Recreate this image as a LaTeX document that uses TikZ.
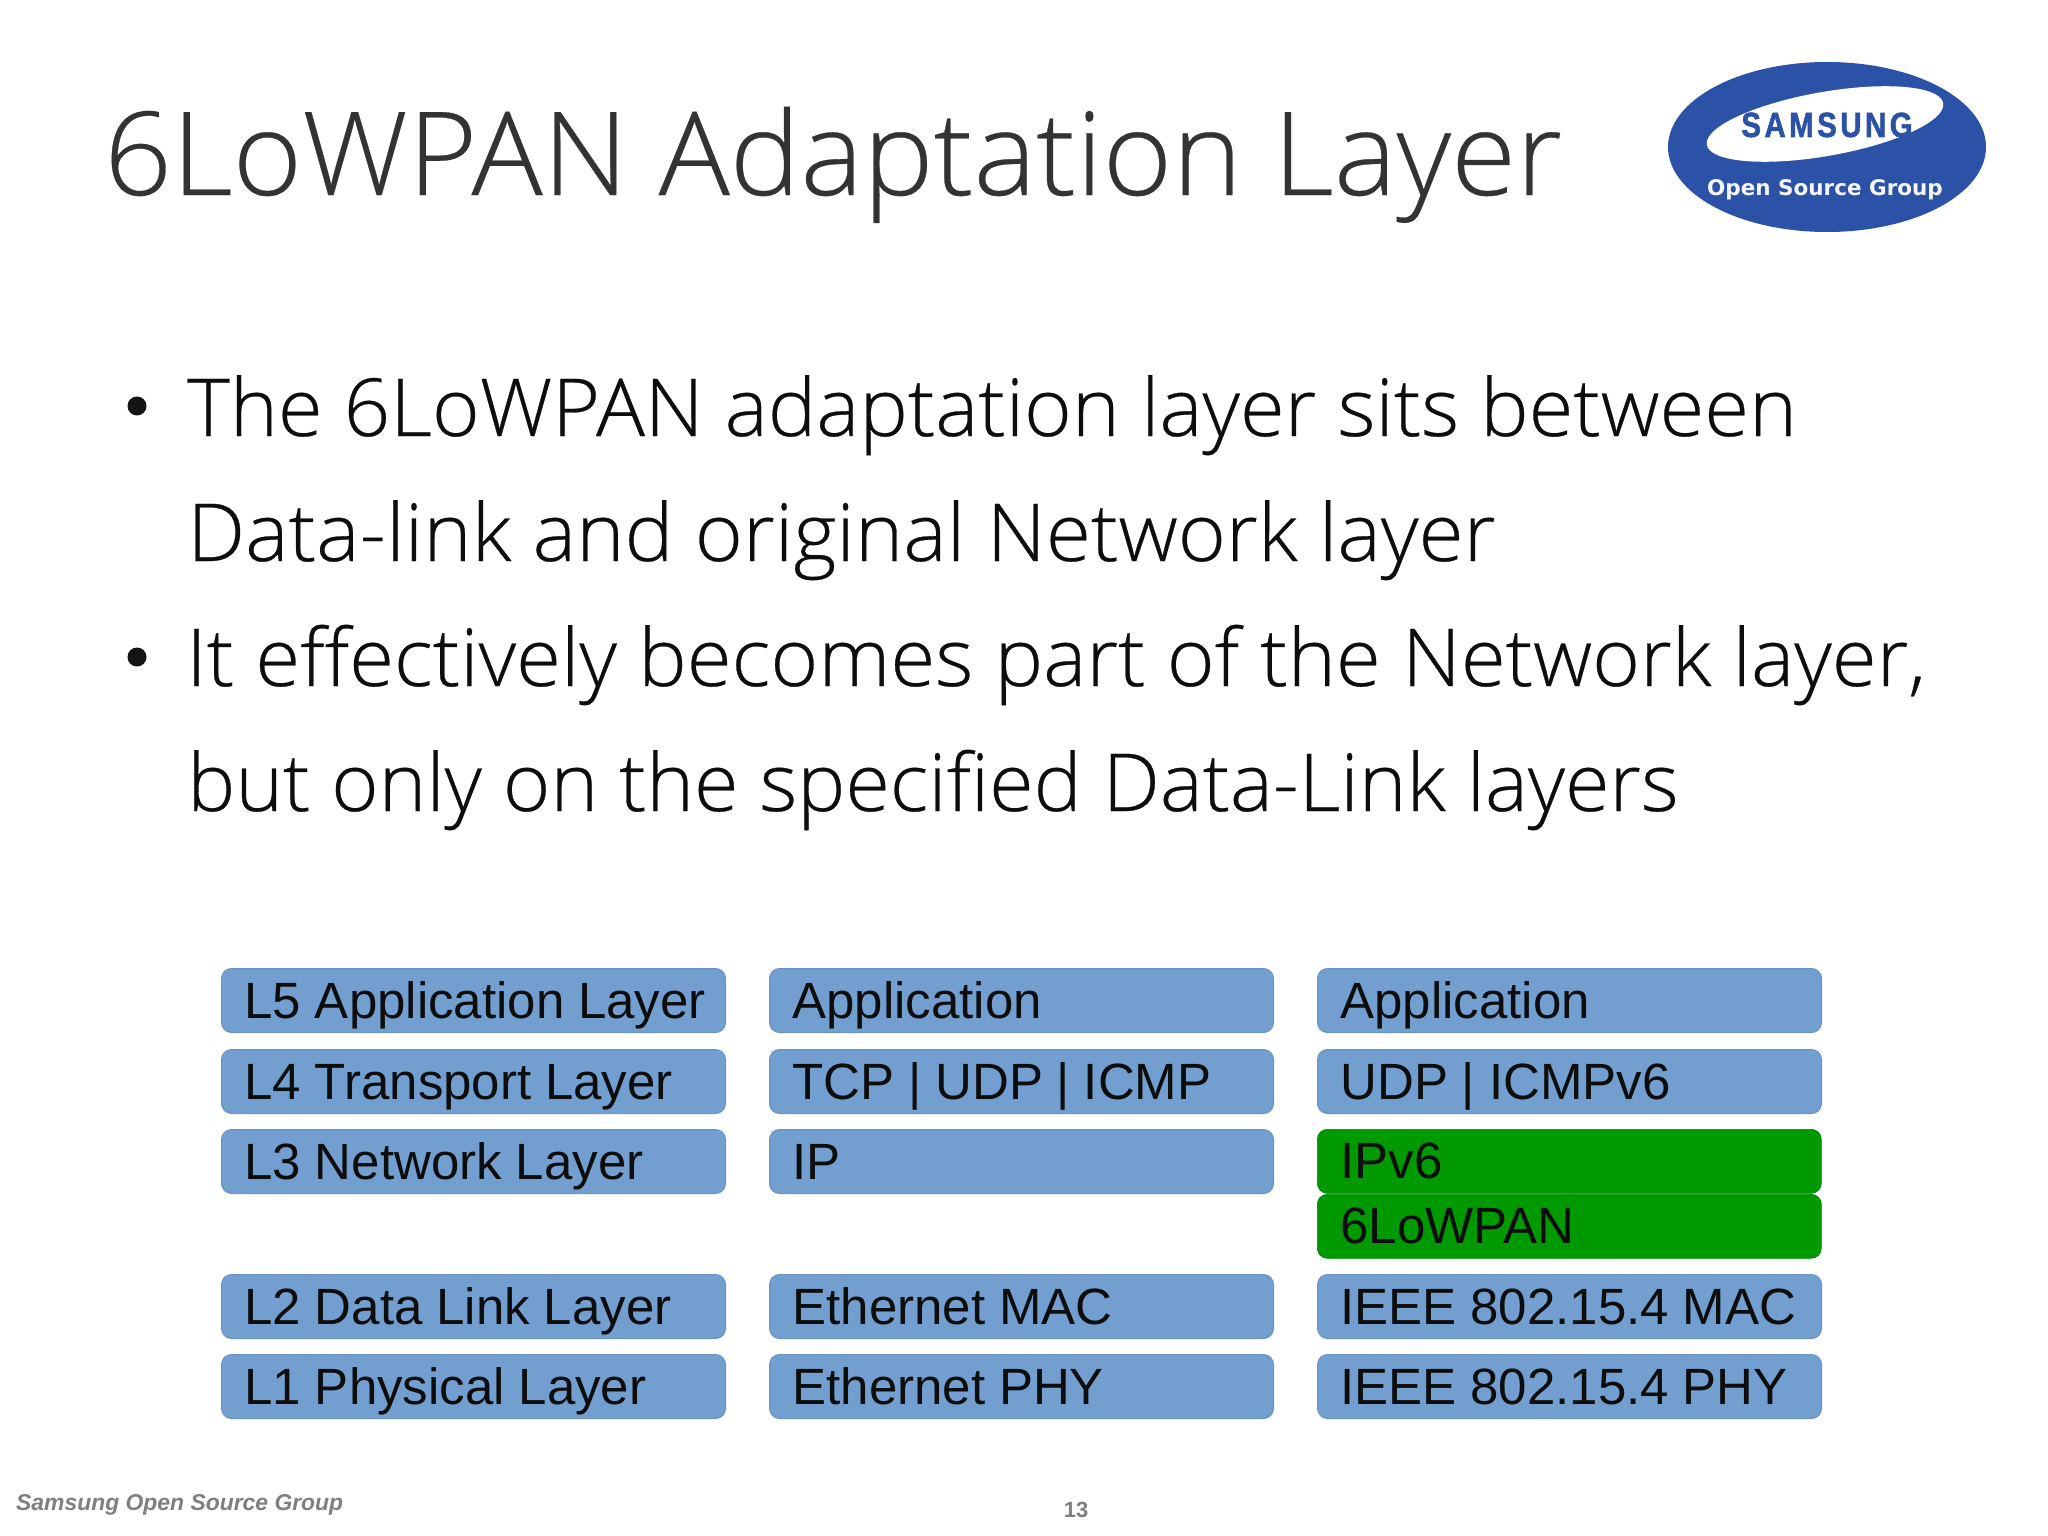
\documentclass[tikz,border=0pt]{standalone}
\usepackage{fontspec}
\usetikzlibrary{shapes.geometric}
\setmainfont{Liberation Sans}
\newfontfamily\headfont{Open Sans}[UprightFont={* Light},FakeStretch=1.022,FakeBold=0.25]
\newfontfamily\bodyfont{Open Sans}[UprightFont={* Light},FakeStretch=1.018,FakeBold=0.35]
\newfontfamily\boxfont{Liberation Sans}
\newfontfamily\logofont{DejaVu Sans}
\newfontfamily\samfont{Liberation Sans Bold}[LetterSpace=10,FakeStretch=0.84,FakeBold=1.5]
\definecolor{boxblue}{HTML}{729FCF}
\definecolor{boxedge}{HTML}{6A93C4}
\definecolor{boxgreen}{HTML}{009900}
\definecolor{logoblue}{HTML}{2C52A8}
\definecolor{footgrey}{HTML}{7F7F7F}
\newcommand\lay[1]{\makebox[502pt][l]{\hspace*{22pt}\spaceskip=13.8pt\relax #1}}
\tikzset{
  x=1pt,y=-1pt,
  layer/.style={anchor=north west,rectangle,rounded corners=10pt,minimum width=504pt,minimum height=64pt,
    inner xsep=1pt,inner ysep=0pt,text height=35pt,text depth=0pt,
    font=\boxfont\fontsize{51}{51}\selectfont,text=black!95},
  bluelayer/.style={layer,fill=boxblue,draw=boxedge,line width=1pt},
  greenlayer/.style={layer,fill=boxgreen,draw=boxgreen!85!black,line width=.6pt},
  bodyline/.style={anchor=base west,inner sep=0pt,font=\bodyfont\fontsize{80}{80}\selectfont,text=black!95},
  bulletdot/.style={circle,fill=black!92,inner sep=0pt,minimum size=19pt},
}
\begin{document}
\begin{tikzpicture}
\useasboundingbox (0,0) rectangle (2048,1536);
\fill[white] (0,0) rectangle (2048,1536);
\node[anchor=base west,inner sep=0pt,font=\headfont\fontsize{116}{116}\selectfont,text=black!80] (title) at (104,195) {6LoWPAN Adaptation Layer};
% logo
\node[ellipse,fill=logoblue,minimum width=318pt,minimum height=170pt,inner sep=0pt] (logo) at (1827,147) {};
\node[ellipse,fill=white,minimum width=240pt,minimum height=64pt,inner sep=0pt,rotate=10] (swoosh) at (1825,124) {};
\node[anchor=base,inner sep=0pt,font=\samfont\fontsize{35}{35}\selectfont,text=logoblue] (samsung) at (1827,137) {SAMSUNG};
\node[anchor=base,inner sep=0pt,font=\logofont\bfseries\fontsize{21.5}{21.5}\selectfont,text=white!95!logoblue] (osg) at (1825,195) {Open Source Group};
% bullets
\node[bulletdot] (b1) at (137,406) {};
\node[bodyline] (l1) at (187,436) {The 6LoWPAN adaptation layer sits between};
\node[bodyline,xscale=1.008] (l2) at (187,561) {Data-link and original Network layer};
\node[bulletdot] (b2) at (137,657) {};
\node[bodyline,xscale=1.003] (l3) at (186,686) {It effectively becomes part of the Network layer,};
\node[bodyline,xscale=0.994] (l4) at (187,811) {but only on the specified Data-Link layers};
% table
\node[bluelayer] (a5) at (221,968) {\lay{L5 Application Layer}};
\node[bluelayer] (a4) at (221,1049) {\lay{L4 Transport Layer}};
\node[bluelayer] (a3) at (221,1129) {\lay{L3 Network Layer}};
\node[bluelayer] (a2) at (221,1274) {\lay{L2 Data Link Layer}};
\node[bluelayer] (a1) at (221,1354) {\lay{L1 Physical Layer}};
\node[bluelayer] (b5) at (769,968) {\lay{Application}};
\node[bluelayer] (b4) at (769,1049) {\lay{TCP | UDP | ICMP}};
\node[bluelayer] (b3) at (769,1129) {\lay{IP}};
\node[bluelayer] (b22) at (769,1274) {\lay{Ethernet MAC}};
\node[bluelayer] (b11) at (769,1354) {\lay{Ethernet PHY}};
\node[bluelayer] (c5) at (1317,968) {\lay{Application}};
\node[bluelayer] (c4) at (1317,1049) {\lay{UDP | ICMPv6}};
\node[greenlayer] (c3) at (1317,1129) {\lay{IPv6}};
\node[greenlayer] (c25) at (1317,1194) {\lay{6LoWPAN}};
\node[bluelayer] (c2) at (1317,1274) {\lay{IEEE 802.15.4 MAC}};
\node[bluelayer] (c1) at (1317,1354) {\lay{IEEE 802.15.4 PHY}};
% footer
\node[anchor=base west,inner sep=0pt,font=\bfseries\itshape\fontsize{22.9}{23}\selectfont,text=footgrey] (foot) at (16,1510) {Samsung Open Source Group};
\node[anchor=base,inner sep=0pt,font=\bfseries\fontsize{22}{22}\selectfont,text=footgrey] (page) at (1076,1517) {13};
\end{tikzpicture}
\end{document}
